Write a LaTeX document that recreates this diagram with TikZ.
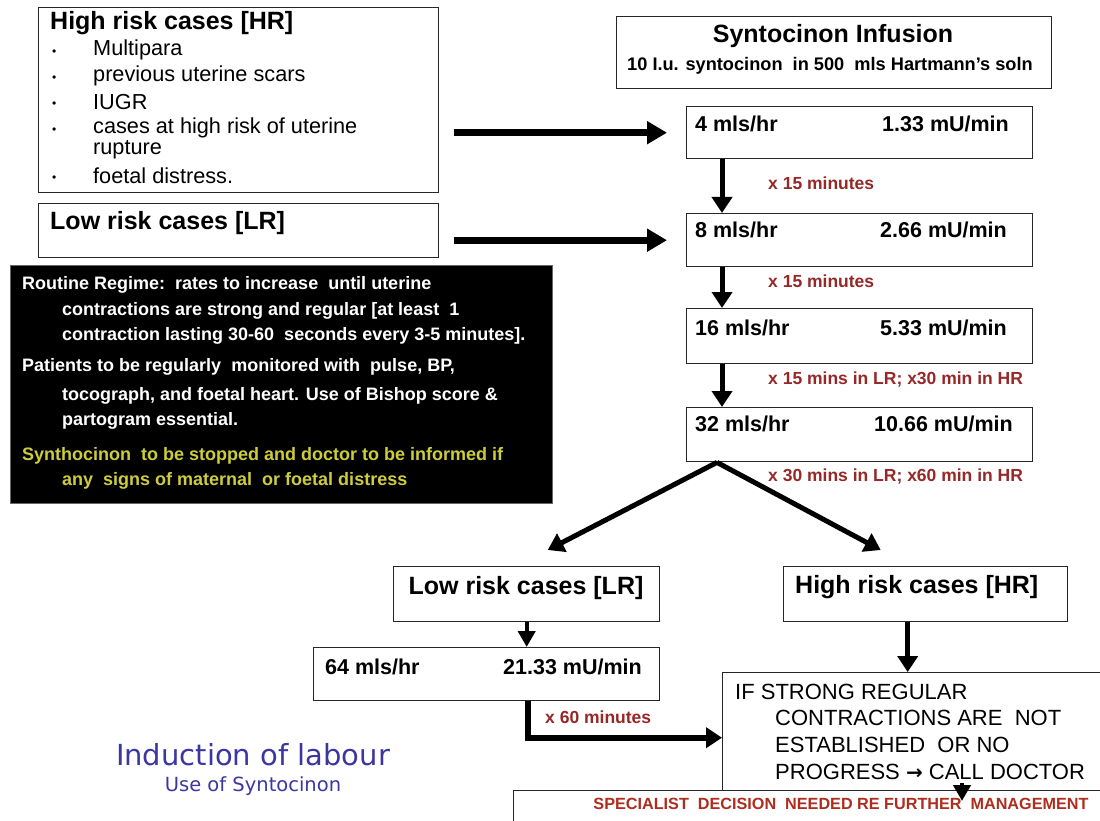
\documentclass[tikz,border=0pt]{standalone}
\usepackage{fontspec}
\setmainfont{Liberation Sans}
\newfontfamily\dejavu{DejaVu Sans}
\usetikzlibrary{arrows.meta}
\definecolor{labred}{RGB}{150,40,40}
\definecolor{titleblue}{RGB}{60,55,160}
\definecolor{warnyellow}{RGB}{205,205,60}
\definecolor{specred}{RGB}{175,45,30}
\newcommand{\myfs}[1]{\fontsize{#1}{#1}\selectfont}
\begin{document}
\begin{tikzpicture}[x=1pt,y=-1pt,
  box/.style={draw=black!85, line width=1.4pt, inner sep=0pt, anchor=north west},
  txt/.style={anchor=west, inner sep=0pt},
  head/.style={txt, font=\myfs{25}\bfseries},
  bul/.style={txt, font=\myfs{21.7}},
  dot/.style={txt, font=\myfs{12}},
  rate/.style={txt, font=\myfs{21.5}\bfseries},
  lab/.style={txt, font=\myfs{17.5}\bfseries, text=labred},
  blk/.style={txt, font=\myfs{18}\bfseries, text=white},
  warn/.style={txt, font=\myfs{18}\bfseries, text=warnyellow},
  caps/.style={txt, font=\myfs{22}},
  arr/.style={line width=5pt, -{Triangle[length=16pt,width=20pt]}},
  harr/.style={line width=7pt, -{Triangle[length=20pt,width=22pt]}},
  sarr/.style={line width=4pt, -{Triangle[length=16pt,width=17pt]}}]
\useasboundingbox (0,0) rectangle (1100,821);
\fill[white] (0,0) rectangle (1100,821);

% boxes
\node[box, minimum width=400pt, minimum height=185pt] (hr) at (38,7) {};
\node[box, minimum width=400pt, minimum height=54pt] (lr) at (38,203) {};
\node[box, minimum width=435pt, minimum height=72pt] (synt) at (616,16) {};
\node[box, minimum width=346pt, minimum height=52pt] (r4) at (686,106) {};
\node[box, minimum width=346pt, minimum height=53pt] (r8) at (686,213) {};
\node[box, minimum width=346pt, minimum height=55pt] (r16) at (686,308) {};
\node[box, minimum width=346pt, minimum height=54pt] (r32) at (686,407) {};
\node[box, fill=black, draw=black!60, line width=0.8pt, minimum width=542pt, minimum height=238pt] (blackbox) at (10,265) {};
\node[box, minimum width=266pt, minimum height=55pt] (lr2) at (393,566) {};
\node[box, minimum width=284pt, minimum height=55pt] (hr2) at (783,566) {};
\node[box, minimum width=346pt, minimum height=53pt] (r64) at (313,647) {};
\node[box, minimum width=420pt, minimum height=118pt] (ifbox) at (722,672) {};
\node[box, fill=white, minimum width=700pt, minimum height=100pt] (spec) at (513,790) {};

% high risk box text
\node[head] (hrt) at (50,23) {High risk cases [HR]};
\node[dot] (d1) at (52,53) {•};
\node[bul] (b1) at (93,50) {Multipara};
\node[dot] (d2) at (52,79) {•};
\node[bul] (b2) at (93,76) {previous uterine scars};
\node[dot] (d3) at (52,105) {•};
\node[bul] (b3) at (93,102) {IUGR};
\node[dot] (d4) at (52,131) {•};
\node[bul] (b4) at (93,128) {cases at high risk of uterine};
\node[bul] (b5) at (93,150) {rupture};
\node[dot] (d5) at (52,179) {•};
\node[bul] (b6) at (93,176) {foetal distress.};

\node[head] (lrt) at (50,223) {Low risk cases [LR]};

% syntocinon
\node[anchor=center, inner sep=0pt, font=\myfs{25}\bfseries] (st1) at (833,36) {Syntocinon Infusion};
\node[anchor=center, inner sep=0pt, font=\myfs{18.2}\bfseries] (st2) at (830,66) {10 I.u. syntocinon\ \ in 500\ \ mls\ Hartmann's\ soln};

% rates
\node[rate] (t4a) at (695,124) {4 mls/hr};
\node[rate] (t4b) at (882,124) {1.33 mU/min};
\node[rate] (t8a) at (695,230) {8 mls/hr};
\node[rate] (t8b) at (880,230) {2.66 mU/min};
\node[rate] (t16a) at (695,328) {16 mls/hr};
\node[rate] (t16b) at (880,328) {5.33 mU/min};
\node[rate] (t32a) at (695,424) {32 mls/hr};
\node[rate] (t32b) at (874,424) {10.66 mU/min};
\node[rate] (t64a) at (325,667) {64 mls/hr};
\node[rate] (t64b) at (503,667) {21.33 mU/min};

% labels
\node[lab] (l1) at (768,183) {x 15 minutes};
\node[lab] (l2) at (768,281) {x 15 minutes};
\node[lab] (l3) at (768,380) {x 15 mins in LR; x30 min in HR};
\node[lab] (l4) at (768,477) {x 30 mins in LR; x60 min in HR};
\node[lab] (l5) at (545,717) {x 60 minutes};

% black box
\node[blk] (k1) at (22,285) {Routine Regime:\ \ rates to increase\ \ until uterine};
\node[blk] (k2) at (62,311) {contractions are strong and regular [at least\ \ 1};
\node[blk] (k3) at (62,336) {contraction lasting 30-60\ \ seconds every 3-5 minutes].};
\node[blk] (k4) at (22,367) {Patients to be regularly\ \ monitored with\ \ pulse, BP,};
\node[blk] (k5) at (62,396) {tocograph, and foetal heart. Use of Bishop score \&};
\node[blk] (k6) at (62,421) {partogram essential.};
\node[warn] (k7) at (22,456) {Synthocinon\ \ to be stopped and doctor to be informed if};
\node[warn] (k8) at (62,481) {any\ \ signs of maternal\ \ or foetal distress};

% bottom boxes text
\node[anchor=center, inner sep=0pt, font=\myfs{25}\bfseries] (lr2t) at (526,588) {Low risk cases [LR]};
\node[head] (hr2t) at (795,587) {High risk cases [HR]};
\node[caps] (i1) at (735,692) {IF STRONG REGULAR};
\node[caps] (i2) at (775,718) {CONTRACTIONS ARE\ \ NOT};
\node[caps] (i3) at (775,745) {ESTABLISHED\ \ OR NO};
\node[caps] (i4) at (775,772) {PROGRESS {\dejavu\bfseries\myfs{20}→} CALL DOCTOR};
\node[anchor=center, inner sep=0pt, font=\myfs{16.2}\bfseries, text=specred] (spt) at (841,804) {SPECIALIST\ \ DECISION\ \ NEEDED RE FURTHER\ \ MANAGEMENT};

% title
\node[anchor=center, inner sep=0pt, font=\dejavu\myfs{29}, text=titleblue] (title) at (253,755) {Induction of labour};
\node[anchor=center, inner sep=0pt, font=\dejavu\myfs{19.5}, text=titleblue] (subtitle) at (253,786) {Use of Syntocinon};

% connectors
\draw[harr, shorten <=15pt, shorten >=19pt] (hr.east |- r4.west) -- (r4.west);
\draw[harr, shorten <=15pt, shorten >=19pt] (lr.east |- r8.west) -- (r8.west);
\draw[arr] ([xshift=36pt]r4.south west) -- ([xshift=36pt]r8.north west);
\draw[arr] ([xshift=36pt]r8.south west) -- ([xshift=36pt]r16.north west);
\draw[arr] ([xshift=36pt]r16.south west) -- ([xshift=36pt]r32.north west);
\draw[arr] ([xshift=31pt]r32.south west) -- ([xshift=21pt,yshift=16pt]lr2.north);
\draw[arr] ([xshift=31pt]r32.south west) -- ([xshift=-45pt,yshift=16pt]hr2.north);
\draw[sarr] (lr2.south) -- (lr2.south |- r64.north);
\draw[arr] ([xshift=-18pt]hr2.south) -- ([xshift=-18pt]hr2.south |- ifbox.north);
\draw[arr, line width=6pt] ([xshift=215pt]r64.south west) |- ([yshift=-6pt]ifbox.west);
\draw[sarr] ([xshift=240pt,yshift=8pt]ifbox.south west) -- ([xshift=449pt,yshift=-11pt]spec.north west);
\end{tikzpicture}
\end{document}
